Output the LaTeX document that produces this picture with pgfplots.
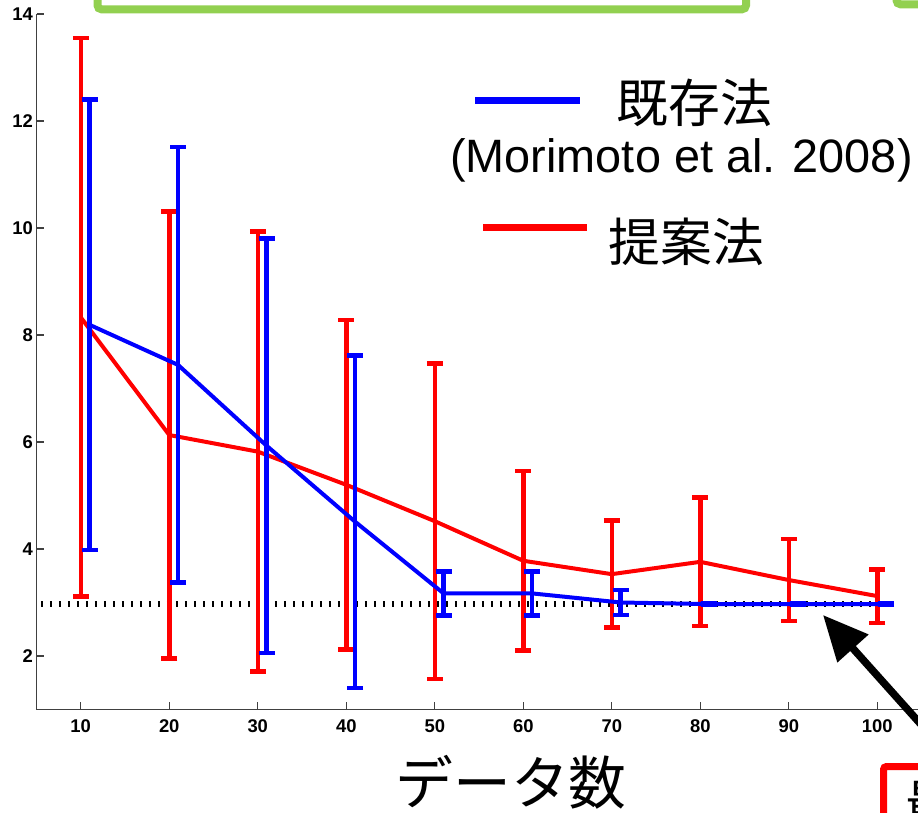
\documentclass[border=0pt]{standalone}
\usepackage{fontspec}
\setmainfont{Liberation Sans}
\newfontfamily\cjk{Noto Sans CJK JP}
\usepackage{pgfplots}
\pgfplotsset{compat=1.18}
\usetikzlibrary{arrows.meta}
\definecolor{mygreen}{RGB}{146,208,80}
\begin{document}
\begin{tikzpicture}
\useasboundingbox (-36.5bp,-103.5bp) rectangle (881.5bp,709.5bp);
\begin{axis}[
  at={(0,0)}, anchor=south west,
  scale only axis, width=929.25bp, height=695.5bp,
  xmin=5, xmax=110, ymin=1, ymax=14,
  axis x line=bottom, axis y line=left,
  axis line style={-, black!75, line width=1.2bp},
  xtick={10,20,...,100}, ytick={2,4,...,14},
  tick align=inside, major tick length=8bp,
  tick style={black!75, line width=1.2bp},
  ticklabel style={font=\bfseries\fontsize{18.5}{20}\selectfont},
  /pgf/number format/assume math mode=true,
  xticklabel style={yshift=-7bp},
  clip=false,
]
\addplot[black, line width=6bp, dash pattern=on 2.5bp off 6.5bp] coordinates {(5.5,2.97) (101.5,2.97)};
\addplot[red, line width=4bp,
  error bars/.cd, y dir=both, y explicit,
  error bar style={line width=4.5bp, red},
  error mark options={rotate=90, mark size=8bp, line width=4.5bp, red}]
  table[x=x, y=y, y error=e] {
x y e
10 8.33 5.22
20 6.13 4.18
30 5.82 4.11
40 5.20 3.08
50 4.52 2.95
60 3.78 1.68
70 3.53 1.00
80 3.76 1.20
90 3.42 0.77
100 3.12 0.50
};
\addplot[blue, line width=4bp,
  error bars/.cd, y dir=both, y explicit,
  error bar style={line width=4.5bp, blue},
  error mark options={rotate=90, mark size=8bp, line width=4.5bp, blue}]
  table[x=x, y=y, y error=e] {
x y e
11 8.19 4.21
21 7.44 4.07
31 5.93 3.87
41 4.51 3.11
51 3.17 0.41
61 3.17 0.41
71 3.00 0.23
81 2.97 0.02
91 2.97 0.02
101 2.97 0.02
};
\end{axis}
% partial green frames at the top
\draw[mygreen, line width=8bp, rounded corners=4bp] (61bp,800bp) -- (61bp,700.2bp) -- (709.5bp,700.2bp) -- (709.5bp,800bp);
\draw[mygreen, line width=8bp, rounded corners=4bp] (860bp,800bp) |- (1000bp,705.2bp);
% legend
\draw[blue, line width=7bp] (438.5bp,608.5bp) -- (543.5bp,608.5bp);
\node at (658bp,606.5bp) {\cjk\fontsize{52}{54}\selectfont 既存法};
\node at (645bp,549.5bp) {\fontsize{47}{49}\selectfont (Morimoto et al. 2008)};
\draw[red, line width=7bp] (446.5bp,481.5bp) -- (550.5bp,481.5bp);
\node at (650bp,467.5bp) {\cjk\fontsize{52}{54}\selectfont 提案法};
% x label
\node at (474.5bp,-72.5bp) {\cjk\fontsize{58}{60}\selectfont データ数};
% arrow and partial red box
\draw[-{Triangle[length=45bp,width=40bp]}, line width=7.5bp] (923.5bp,-58.5bp) -- (786.5bp,94.5bp);
\draw[red, line width=7bp, rounded corners=3bp] (847bp,-200bp) |- (1100bp,-57bp);
\node[anchor=north west, inner sep=0pt] at (868.5bp,-70bp) {\cjk\fontsize{50}{50}\selectfont 最適解};
\end{tikzpicture}
\end{document}
